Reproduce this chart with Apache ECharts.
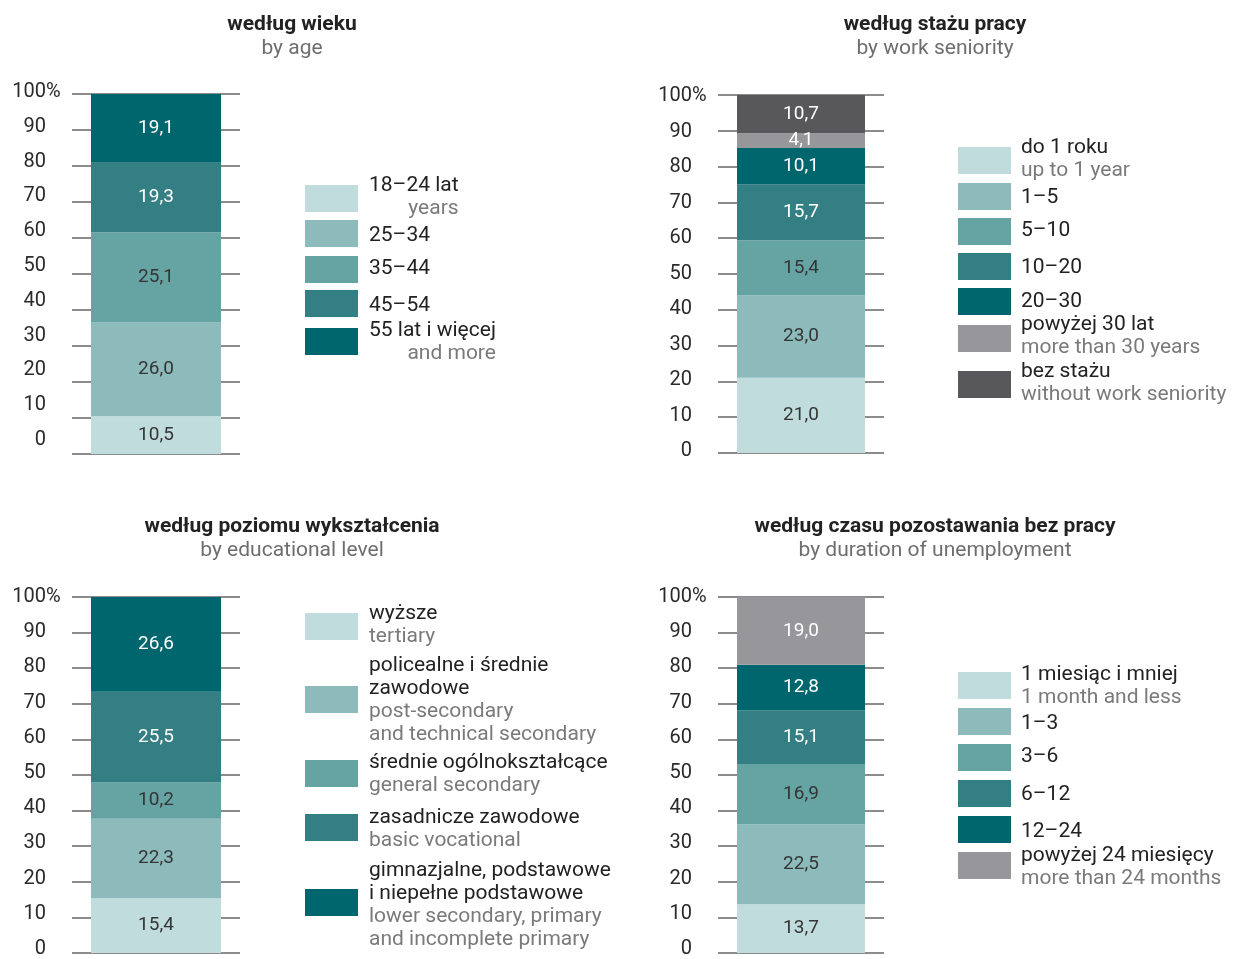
<!DOCTYPE html>
<html>
<head>
<meta charset="utf-8">
<title>Bezrobotni</title>
<style>
  html, body { margin: 0; padding: 0; background: #fff; }
  #chart { width: 1239px; height: 959px; }
</style>
<script src="https://cdn.jsdelivr.net/npm/echarts@6/dist/echarts.min.js"></script>
</head>
<body>
<div id="chart"></div>
<script>
// shares in %, bottom segment first
const ageNames = ['18–24 lat', '25–34', '35–44', '45–54', '55 lat i więcej']
const ageNamesEn = ['years', '', '', '', 'and more']
const ageValues = [10.5, 26.0, 25.1, 19.3, 19.1]

const seniorityNames = ['do 1 roku', '1–5', '5–10', '10–20', '20–30', 'powyżej 30 lat', 'bez stażu']
const seniorityNamesEn = ['up to 1 year', '', '', '', '', 'more than 30 years', 'without work seniority']
const seniorityValues = [21.0, 23.0, 15.4, 15.7, 10.1, 4.1, 10.7]

const educationNames = ['wyższe', 'policealne i średnie\nzawodowe', 'średnie ogólnokształcące', 'zasadnicze zawodowe', 'gimnazjalne, podstawowe\ni niepełne podstawowe']
const educationNamesEn = ['tertiary', 'post-secondary\nand technical secondary', 'general secondary', 'basic vocational', 'lower secondary, primary\nand incomplete primary']
const educationValues = [15.4, 22.3, 10.2, 25.5, 26.6]

const durationNames = ['1 miesiąc i mniej', '1–3', '3–6', '6–12', '12–24', 'powyżej 24 miesięcy']
const durationNamesEn = ['1 month and less', '', '', '', '', 'more than 24 months']
const durationValues = [13.7, 22.5, 16.9, 15.1, 12.8, 19.0]

const yTicks = [0, 10, 20, 30, 40, 50, 60, 70, 80, 90, 100]

const FONT = 'Roboto, "Noto Sans", sans-serif'
const teal = ['#c1dcdd', '#8dbbbc', '#66a4a4', '#347f83', '#00666e']
const gray = '#97979b'
const darkGray = '#58585a'
// segments that get white value labels
const whiteOn = [teal[3], teal[4], gray, darkGray]

const panels = [
  {
    title: 'według wieku', subtitle: 'by age',
    names: ageNames, namesEn: ageNamesEn, values: ageValues,
    colors: teal, enRight: true,
    left: 72, top: 94, width: 168, height: 360, barWidth: 130,
    labelTop: 92, labelBottom: 440,
    titleX: 292, titleY: 13,
    swatchX: 305, textX: 369,
    swatchTops: [185, 220, 256, 290, 328],
    textTops: [186, 236, 269, 306, 331]
  },
  {
    title: 'według stażu pracy', subtitle: 'by work seniority',
    names: seniorityNames, namesEn: seniorityNamesEn, values: seniorityValues,
    colors: teal.concat([gray, darkGray]),
    left: 718, top: 95, width: 166, height: 358, barWidth: 128,
    labelTop: 96, labelBottom: 451,
    titleX: 935, titleY: 13,
    swatchX: 958, textX: 1021,
    swatchTops: [147, 183, 218, 253, 288, 325, 371],
    textTops: [148, 198, 231, 268, 302, 325, 372]
  },
  {
    title: 'według poziomu wykształcenia', subtitle: 'by educational level',
    names: educationNames, namesEn: educationNamesEn, values: educationValues,
    colors: teal,
    left: 72, top: 597, width: 168, height: 356, barWidth: 130,
    labelTop: 597, labelBottom: 953,
    titleX: 292, titleY: 515,
    swatchX: 305, textX: 369,
    swatchTops: [613, 686, 760, 814, 889],
    textTops: [614, 666, 763, 818, 871]
  },
  {
    title: 'według czasu pozostawania bez pracy', subtitle: 'by duration of unemployment',
    names: durationNames, namesEn: durationNamesEn, values: durationValues,
    colors: teal.concat([gray]),
    left: 718, top: 597, width: 166, height: 356, barWidth: 128,
    labelTop: 597, labelBottom: 953,
    titleX: 935, titleY: 515,
    swatchX: 958, textX: 1021,
    swatchTops: [672, 708, 744, 780, 816, 852],
    textTops: [675, 724, 757, 795, 832, 856]
  }
]

const fmt = v => v.toFixed(1).replace('.', ',')

const grid = []
const xAxis = []
const yAxis = []
const title = []
const series = []
const graphic = []
const n = panels.length
const LABEL_MARGIN = 26

panels.forEach((p, i) => {
  title.push({
    text: p.title,
    subtext: p.subtitle,
    left: p.titleX,
    top: p.titleY,
    textAlign: 'center',
    itemGap: 0,
    padding: 0,
    textStyle: { fontFamily: FONT, fontSize: 21, fontWeight: 'bold', color: '#222', lineHeight: 24 },
    subtextStyle: { fontFamily: FONT, fontSize: 21, color: '#6e6e6e', lineHeight: 24 }
  })

  // bar grid
  grid[i] = { left: p.left, top: p.top, width: p.width, height: p.height }
  xAxis[i] = { gridIndex: i, type: 'category', data: [''], show: false }
  yAxis[i] = {
    gridIndex: i, type: 'value', min: 0, max: 100, interval: 10,
    axisLine: { show: false }, axisTick: { show: false }, axisLabel: { show: false },
    splitLine: { lineStyle: { color: '#8c8c8c', width: 2 } }
  }

  // label grid: tick labels are spaced a little differently from the lines
  grid[n + i] = { left: p.left, top: p.labelTop, width: p.width, height: p.labelBottom - p.labelTop }
  xAxis[n + i] = { gridIndex: n + i, type: 'category', data: [''], show: false }
  yAxis[n + i] = {
    gridIndex: n + i, type: 'value', min: 0, max: 100, interval: 10,
    axisLine: { show: false }, axisTick: { show: false }, splitLine: { show: false },
    axisLabel: {
      margin: LABEL_MARGIN, fontFamily: FONT, fontSize: 20, color: '#2a2a2a',
      customValues: yTicks
    }
  }
  // the percent sign hangs to the right of the "100" label
  graphic.push({
    type: 'text',
    x: p.left - LABEL_MARGIN,
    y: p.labelTop,
    style: { text: '%', fontFamily: FONT, fontSize: 20, fill: '#2a2a2a', align: 'left', verticalAlign: 'middle' }
  })

  p.values.forEach((v, k) => {
    const c = p.colors[k]
    series.push({
      type: 'bar',
      name: p.names[k],
      xAxisIndex: i,
      yAxisIndex: i,
      stack: 'panel' + i,
      barWidth: p.barWidth,
      data: [v],
      itemStyle: { color: c },
      label: {
        show: true,
        position: 'inside',
        fontFamily: FONT,
        fontSize: 19,
        color: whiteOn.includes(c) ? '#ffffff' : '#353535',
        formatter: d => fmt(d.value)
      },
      emphasis: { disabled: true }
    })

    // legend row
    graphic.push({
      type: 'rect',
      shape: { x: p.swatchX, y: p.swatchTops[k], width: 53, height: 27 },
      style: { fill: c }
    })
    const pl = p.names[k].split('\n').map(s => '{pl|' + s + '}')
    const en = p.namesEn[k] ? p.namesEn[k].split('\n').map(s => '{' + (p.enRight ? 'enR' : 'en') + '|' + s + '}') : []
    graphic.push({
      type: 'text',
      x: p.textX,
      y: p.textTops[k] - 11.5,
      style: {
        text: pl.concat(en).join('\n'),
        verticalAlign: 'top',
        rich: {
          pl: { fontFamily: FONT, fontSize: 21, fill: '#222222', lineHeight: 23 },
          en: { fontFamily: FONT, fontSize: 21, fill: '#7a7a7a', lineHeight: 23 },
          enR: { fontFamily: FONT, fontSize: 21, fill: '#7a7a7a', lineHeight: 23, align: 'right' }
        }
      }
    })
  })
})

const chart = echarts.init(document.getElementById('chart'))
chart.setOption({
  backgroundColor: '#ffffff',
  animation: false,
  title,
  grid,
  xAxis,
  yAxis,
  series,
  graphic
})
</script>
</body>
</html>
